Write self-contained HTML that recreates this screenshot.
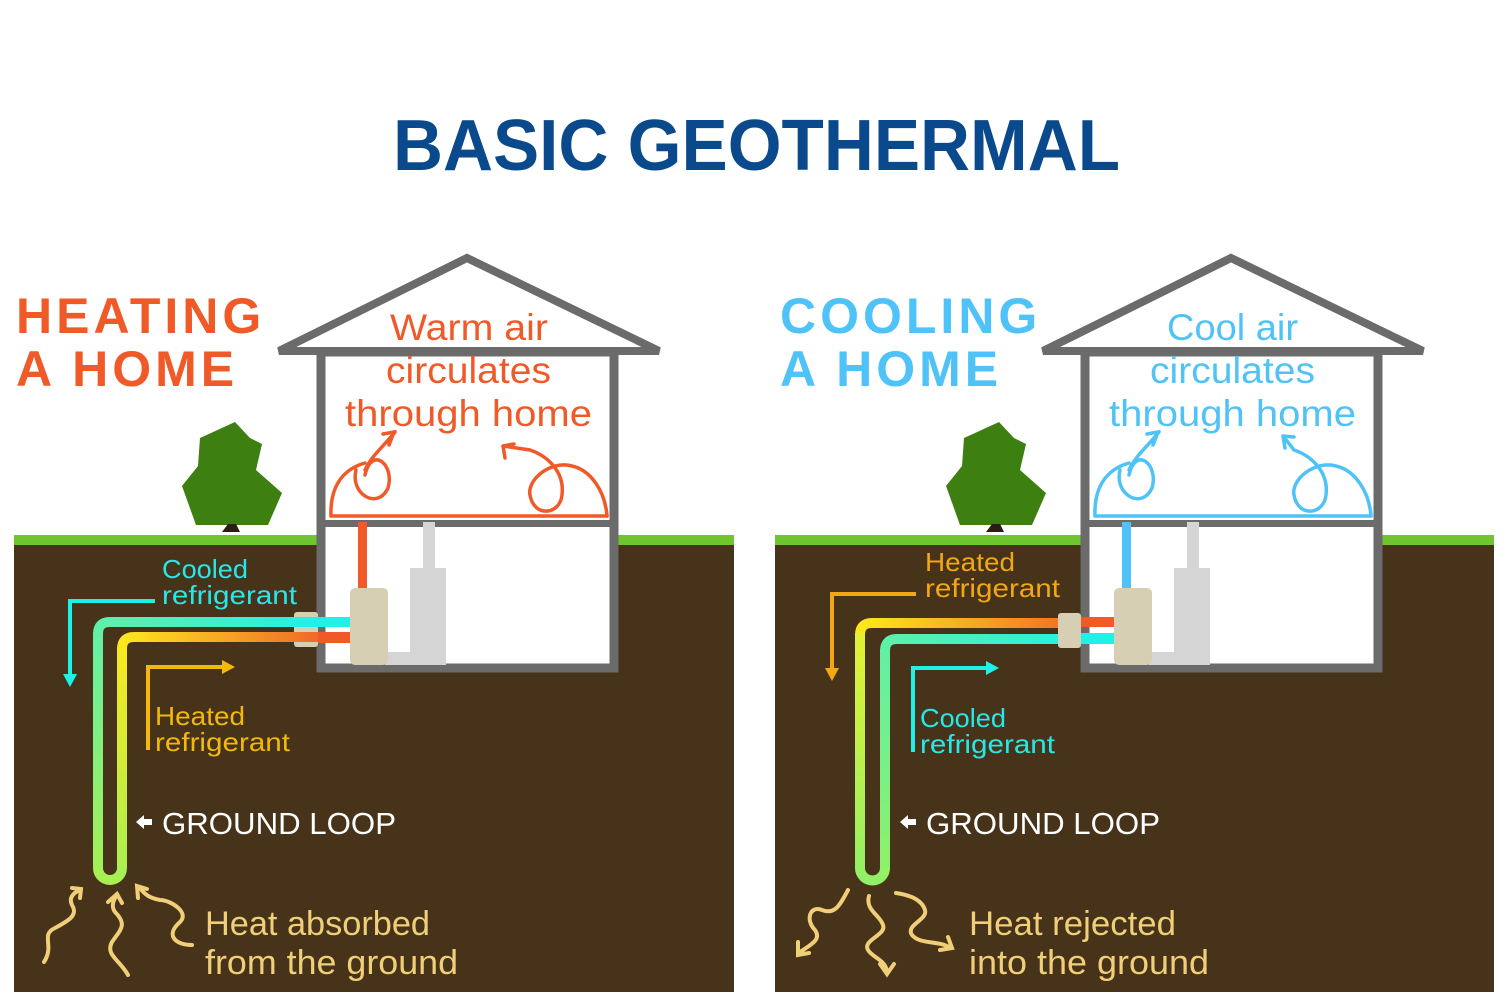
<!DOCTYPE html>
<html><head><meta charset="utf-8"><style>
html,body{margin:0;padding:0;background:#fff;}
svg{display:block;}
text{font-family:"Liberation Sans",sans-serif;}
</style></head><body>
<svg width="1508" height="1005" viewBox="0 0 1508 1005" xmlns="http://www.w3.org/2000/svg">
<defs>
<linearGradient id="lo" gradientUnits="userSpaceOnUse" x1="318" y1="0" x2="98" y2="0"><stop offset="0" stop-color="#1ef2e6"/><stop offset="1" stop-color="#60f0a8"/></linearGradient>
<linearGradient id="lov" gradientUnits="userSpaceOnUse" x1="0" y1="622" x2="0" y2="885"><stop offset="0" stop-color="#60f0a8"/><stop offset="1" stop-color="#a8f050"/></linearGradient>
<linearGradient id="li" gradientUnits="userSpaceOnUse" x1="318" y1="0" x2="122" y2="0"><stop offset="0" stop-color="#f06a28"/><stop offset="1" stop-color="#fde81e"/></linearGradient>
<linearGradient id="liv" gradientUnits="userSpaceOnUse" x1="0" y1="637" x2="0" y2="880"><stop offset="0" stop-color="#fde81e"/><stop offset="1" stop-color="#a8f050"/></linearGradient>
<linearGradient id="ro" gradientUnits="userSpaceOnUse" x1="1080" y1="0" x2="860" y2="0"><stop offset="0" stop-color="#f06a28"/><stop offset="1" stop-color="#fde81e"/></linearGradient>
<linearGradient id="rov" gradientUnits="userSpaceOnUse" x1="0" y1="623" x2="0" y2="885"><stop offset="0" stop-color="#e8f030"/><stop offset="1" stop-color="#90f068"/></linearGradient>
<linearGradient id="ri" gradientUnits="userSpaceOnUse" x1="1080" y1="0" x2="885" y2="0"><stop offset="0" stop-color="#1ef2e6"/><stop offset="1" stop-color="#60f0a8"/></linearGradient>
<linearGradient id="riv" gradientUnits="userSpaceOnUse" x1="0" y1="639" x2="0" y2="880"><stop offset="0" stop-color="#60f0a8"/><stop offset="1" stop-color="#90f068"/></linearGradient>
</defs>

<text x="393" y="170" font-size="72" font-weight="bold" fill="#0a4a8c" textLength="727" lengthAdjust="spacingAndGlyphs">BASIC GEOTHERMAL</text>

<!-- LEFT PANEL -->
<rect x="14" y="535" width="720" height="457" fill="#46331a"/>
<rect x="14" y="535" width="720" height="10" fill="#6fc52e"/>
<text x="16" y="333" font-size="50" font-weight="bold" fill="#f05a28" letter-spacing="4">HEATING</text>
<text x="16" y="386" font-size="50" font-weight="bold" fill="#f05a28" letter-spacing="4">A HOME</text>
<polygon points="235,422 250,438 262,444 256,470 282,493 268,525 196,525 182,486 198,466 200,438" fill="#3d7f10"/>
<polygon points="228,524 236,524 240,532 222,532" fill="#2a1e0e"/>
<rect x="321" y="352" width="293" height="316" fill="#fff"/>
<polygon points="467,258 279,351 659,351" fill="#fff" stroke="#6b6b6b" stroke-width="8"/>
<rect x="321" y="352" width="293" height="316" fill="#fff" stroke="#6b6b6b" stroke-width="9"/>
<rect x="321" y="520" width="293" height="7" fill="#6b6b6b"/>
<rect x="358" y="522" width="9" height="70" fill="#f05a28"/>
<rect x="423" y="522" width="12" height="48" fill="#d5d5d5"/>
<rect x="410" y="568" width="36" height="97" fill="#d5d5d5"/>
<rect x="385" y="652" width="30" height="13" fill="#d5d5d5"/>
<rect x="318" y="617" width="34" height="10" fill="#1ef2e6"/>
<rect x="318" y="632" width="34" height="11" fill="#f05a28"/>
<rect x="350" y="588" width="38" height="77" rx="5" fill="#d6cfb3"/>
<rect x="294" y="612" width="24" height="35" rx="3" fill="#d6cfb3"/>
<text font-size="37" fill="#f05a28"><tspan x="390" y="340" textLength="158" lengthAdjust="spacingAndGlyphs">Warm air</tspan><tspan x="386" y="383" textLength="165" lengthAdjust="spacingAndGlyphs">circulates</tspan><tspan x="345" y="426" textLength="247" lengthAdjust="spacingAndGlyphs">through home</tspan></text>
<path d="M331,516 L607,516 M331,516 C330,490 340,470 365,463 M356,470 C350,495 378,510 388,488 C395,465 372,445 365,475 M365,470 C372,455 385,445 395,432 M389,445 L394,432 L383,434" fill="none" stroke="#f05a28" stroke-width="3.5" stroke-linecap="round"/>
<path d="M607,516 C605,490 590,470 572,466 C550,460 527,480 530,495 C534,518 560,515 562,495 C565,470 545,455 530,450 L503,446 M503,446 L505,458 M503,446 L514,444" fill="none" stroke="#f05a28" stroke-width="3.5" stroke-linecap="round"/>
<path d="M318,622 L110,622 Q98,622 98,634" fill="none" stroke="url(#lo)" stroke-width="10"/>
<path d="M98,632 L98,868 A12,12 0 0 0 122,868 L122,654" fill="none" stroke="url(#lov)" stroke-width="10"/>
<path d="M318,637 L134,637 Q122,637 122,649" fill="none" stroke="url(#li)" stroke-width="10"/>
<path d="M122,647 L122,868" fill="none" stroke="url(#liv)" stroke-width="10"/>
<path d="M155,601 L70,601 L70,676" fill="none" stroke="#1ef2e6" stroke-width="4"/>
<polygon points="63,674 77,674 70,687" fill="#1ef2e6"/>
<path d="M148,750 L148,667 L224,667" fill="none" stroke="#f3b80b" stroke-width="4"/>
<polygon points="222,660 235,667 222,674" fill="#f3b80b"/>
<text x="162" y="578" font-size="26" fill="#26e8e8" textLength="86" lengthAdjust="spacingAndGlyphs">Cooled</text>
<text x="162" y="604" font-size="26" fill="#26e8e8" textLength="135" lengthAdjust="spacingAndGlyphs">refrigerant</text>
<text x="155" y="725" font-size="26" fill="#f3b80b" textLength="90" lengthAdjust="spacingAndGlyphs">Heated</text>
<text x="155" y="751" font-size="26" fill="#f3b80b" textLength="135" lengthAdjust="spacingAndGlyphs">refrigerant</text>
<polygon points="136,822 144,815 144,819 152,819 152,825 144,825 144,829" fill="#fff"/>
<text x="162" y="834" font-size="31" fill="#fff" textLength="234" lengthAdjust="spacingAndGlyphs">GROUND LOOP</text>
<g fill="none" stroke="#f0cf78" stroke-width="4" stroke-linecap="round">
<path d="M44,962 C55,945 40,935 55,928 C70,920 78,915 72,905 C68,897 75,892 80,890 M72,888 L81,889 L80,898"/>
<path d="M128,975 C120,960 105,955 112,942 C120,930 128,925 115,912 C110,905 115,898 117,895 M108,902 L117,894 L122,903"/>
<path d="M192,945 C175,945 165,935 180,922 C190,912 170,900 160,900 C150,898 145,895 140,888 M138,898 L137,886 L147,889"/>
</g>
<text x="205" y="935" font-size="34" fill="#f0cf78" textLength="225" lengthAdjust="spacingAndGlyphs">Heat absorbed</text>
<text x="205" y="974" font-size="34" fill="#f0cf78" textLength="253" lengthAdjust="spacingAndGlyphs">from the ground</text>

<!-- RIGHT PANEL -->
<rect x="775" y="535" width="719" height="457" fill="#46331a"/>
<rect x="775" y="535" width="719" height="10" fill="#6fc52e"/>
<text x="780" y="333" font-size="50" font-weight="bold" fill="#4fc3f7" letter-spacing="4">COOLING</text>
<text x="780" y="386" font-size="50" font-weight="bold" fill="#4fc3f7" letter-spacing="4">A HOME</text>
<polygon points="999,422 1014,438 1026,444 1020,470 1046,493 1032,525 960,525 946,486 962,466 964,438" fill="#3d7f10"/>
<polygon points="992,524 1000,524 1004,532 986,532" fill="#2a1e0e"/>
<rect x="1085" y="352" width="293" height="316" fill="#fff"/>
<polygon points="1231,258 1043,351 1423,351" fill="#fff" stroke="#6b6b6b" stroke-width="8"/>
<rect x="1085" y="352" width="293" height="316" fill="#fff" stroke="#6b6b6b" stroke-width="9"/>
<rect x="1085" y="520" width="293" height="7" fill="#6b6b6b"/>
<rect x="1122" y="522" width="9" height="70" fill="#4fc3f7"/>
<rect x="1187" y="522" width="12" height="48" fill="#d5d5d5"/>
<rect x="1174" y="568" width="36" height="97" fill="#d5d5d5"/>
<rect x="1149" y="652" width="30" height="13" fill="#d5d5d5"/>
<rect x="1080" y="617" width="36" height="10" fill="#f05a28"/>
<rect x="1080" y="633" width="36" height="11" fill="#1ef2e6"/>
<rect x="1114" y="588" width="38" height="77" rx="5" fill="#d6cfb3"/>
<rect x="1058" y="613" width="23" height="35" rx="3" fill="#d6cfb3"/>
<text font-size="37" fill="#4fc3f7"><tspan x="1167" y="340" textLength="131" lengthAdjust="spacingAndGlyphs">Cool air</tspan><tspan x="1150" y="383" textLength="165" lengthAdjust="spacingAndGlyphs">circulates</tspan><tspan x="1109" y="426" textLength="247" lengthAdjust="spacingAndGlyphs">through home</tspan></text>
<path d="M1095,516 L1371,516 M1095,516 C1094,490 1104,470 1129,463 M1120,470 C1114,495 1142,510 1152,488 C1159,465 1136,445 1129,475 M1129,470 C1136,455 1149,445 1159,432 M1153,445 L1158,432 L1147,434" fill="none" stroke="#4fc3f7" stroke-width="3.5" stroke-linecap="round"/>
<path d="M1371,516 C1369,490 1354,470 1336,466 C1314,460 1291,480 1294,495 C1298,518 1324,515 1326,495 C1329,470 1309,455 1294,450 L1283,436 M1283,436 L1285,448 M1283,436 L1294,437" fill="none" stroke="#4fc3f7" stroke-width="3.5" stroke-linecap="round"/>
<path d="M1058,623 L872,623 Q860,623 860,635" fill="none" stroke="url(#ro)" stroke-width="10"/>
<path d="M860,633 L860,868 A12.5,12.5 0 0 0 885,868 L885,655" fill="none" stroke="url(#rov)" stroke-width="10"/>
<path d="M1058,639 L897,639 Q885,639 885,651" fill="none" stroke="url(#ri)" stroke-width="10"/>
<path d="M885,649 L885,868" fill="none" stroke="url(#riv)" stroke-width="10"/>
<path d="M916,594 L832,594 L832,670" fill="none" stroke="#f3a712" stroke-width="4"/>
<polygon points="825,668 839,668 832,681" fill="#f3a712"/>
<path d="M913,752 L913,668 L988,668" fill="none" stroke="#1ef2e6" stroke-width="4"/>
<polygon points="986,661 999,668 986,675" fill="#1ef2e6"/>
<text x="925" y="571" font-size="26" fill="#f3a712" textLength="90" lengthAdjust="spacingAndGlyphs">Heated</text>
<text x="925" y="597" font-size="26" fill="#f3a712" textLength="135" lengthAdjust="spacingAndGlyphs">refrigerant</text>
<text x="920" y="727" font-size="26" fill="#26e8e8" textLength="86" lengthAdjust="spacingAndGlyphs">Cooled</text>
<text x="920" y="753" font-size="26" fill="#26e8e8" textLength="135" lengthAdjust="spacingAndGlyphs">refrigerant</text>
<polygon points="900,822 908,815 908,819 916,819 916,825 908,825 908,829" fill="#fff"/>
<text x="926" y="834" font-size="31" fill="#fff" textLength="234" lengthAdjust="spacingAndGlyphs">GROUND LOOP</text>
<g fill="none" stroke="#f0cf78" stroke-width="4" stroke-linecap="round">
<path d="M848,890 C840,905 835,915 822,910 C810,905 805,920 815,930 C822,940 810,945 800,952 M798,942 L798,955 L809,953"/>
<path d="M869,896 C865,910 880,915 883,925 C887,935 862,940 868,950 C873,958 886,960 887,972 M880,964 L887,974 L894,964"/>
<path d="M896,893 C910,895 922,900 925,910 C928,920 905,925 912,935 C920,945 940,940 950,948 M940,950 L952,948 L948,937"/>
</g>
<text x="969" y="935" font-size="34" fill="#f0cf78" textLength="207" lengthAdjust="spacingAndGlyphs">Heat rejected</text>
<text x="969" y="974" font-size="34" fill="#f0cf78" textLength="240" lengthAdjust="spacingAndGlyphs">into the ground</text>
</svg>
</body></html>
